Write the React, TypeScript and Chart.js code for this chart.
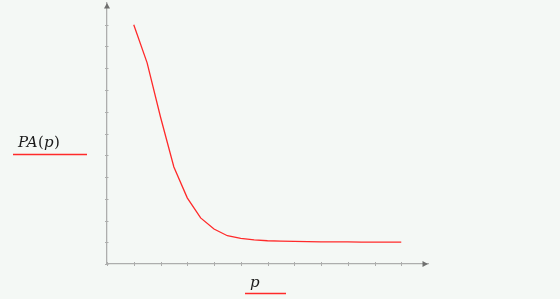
import React, { useEffect, useRef } from "react";
import { Chart, registerables } from "chart.js";

Chart.register(...registerables);

const pValues = [1, 1.5, 2, 2.5, 3, 3.5, 4, 4.5, 5, 5.5, 6, 6.5, 7, 7.5, 8, 8.5, 9, 9.5, 10, 10.5, 11];
const paValues = [11.0, 9.25, 6.76, 4.46, 3.04, 2.12, 1.61, 1.3, 1.18, 1.11, 1.07, 1.05, 1.04, 1.03, 1.02, 1.02, 1.02, 1.01, 1.01, 1.01, 1.01];
const xTickValues = [0, 1, 2, 3, 4, 5, 6, 7, 8, 9, 10, 11];
const yTickValues = [0, 1, 2, 3, 4, 5, 6, 7, 8, 9, 10, 11];
// label pieces: [text, italic]
const yLabelParts: [string, boolean][] = [["PA", true], ["(", false], ["p", true], [")", false]];
const xLabel = "p";

const BG = "#f4f8f5";
const AXIS = "#adaead";
const RED = "#ff2a2a";
const FONT_SIZE = 15;

const mathcadPlugin = {
  id: "mathcadDecor",
  beforeDraw(chart: any) {
    const { ctx, width, height } = chart;
    ctx.save();
    ctx.fillStyle = BG;
    ctx.fillRect(0, 0, width, height);
    ctx.restore();
  },
  afterDraw(chart: any) {
    const { ctx } = chart;
    const xs = chart.scales.x;
    const ys = chart.scales.y;
    const x0 = xs.getPixelForValue(0);
    const y0 = ys.getPixelForValue(0);
    const xEnd = xs.getPixelForValue(xs.max);
    const yEnd = ys.getPixelForValue(ys.max);
    ctx.save();
    // tick marks crossing axes
    ctx.strokeStyle = AXIS;
    ctx.lineWidth = 1;
    xTickValues.forEach((v) => {
      const px = Math.round(xs.getPixelForValue(v)) + 0.5;
      ctx.beginPath();
      ctx.moveTo(px, y0 - 2);
      ctx.lineTo(px, y0 + 2);
      ctx.stroke();
    });
    yTickValues.forEach((v) => {
      const py = Math.round(ys.getPixelForValue(v)) + 0.5;
      ctx.beginPath();
      ctx.moveTo(x0 - 2, py);
      ctx.lineTo(x0 + 1.5, py);
      ctx.stroke();
    });
    // arrows
    ctx.fillStyle = "#6f706f";
    ctx.beginPath();
    ctx.moveTo(xEnd, y0);
    ctx.lineTo(xEnd - 5.5, y0 - 3);
    ctx.lineTo(xEnd - 5.5, y0 + 3);
    ctx.closePath();
    ctx.fill();
    ctx.beginPath();
    ctx.moveTo(x0, yEnd);
    ctx.lineTo(x0 - 3, yEnd + 5.5);
    ctx.lineTo(x0 + 3, yEnd + 5.5);
    ctx.closePath();
    ctx.fill();
    // labels
    ctx.fillStyle = "#1a1a1a";
    ctx.textBaseline = "alphabetic";
    ctx.textAlign = "left";
    let cx = 18;
    yLabelParts.forEach(([t, it]) => {
      ctx.font = `${it ? "italic " : ""}${FONT_SIZE}px 'DejaVu Serif'`;
      ctx.fillText(t, cx, 147);
      cx += ctx.measureText(t).width + (it ? 0.5 : 0);
    });
    ctx.font = `italic ${FONT_SIZE}px 'DejaVu Serif'`;
    ctx.fillText(xLabel, 250, 287);
    ctx.strokeStyle = RED;
    ctx.lineWidth = 1.3;
    ctx.beginPath();
    ctx.moveTo(13, 154.5);
    ctx.lineTo(87, 154.5);
    ctx.moveTo(245, 293.5);
    ctx.lineTo(286, 293.5);
    ctx.stroke();
    ctx.restore();
  },
};

export default function App() {
  const ref = useRef<HTMLCanvasElement>(null);
  useEffect(() => {
    if (!ref.current) return;
    const chart = new Chart(ref.current, {
      type: "line",
      data: {
        datasets: [
          {
            data: pValues.map((p, i) => ({ x: p, y: paValues[i] })),
            borderColor: RED,
            borderWidth: 1.3,
            pointRadius: 0,
            tension: 0,
            fill: false,
          },
        ],
      },
      options: {
        animation: false,
        responsive: false,
        devicePixelRatio: 1,
        layout: { padding: { left: 107, right: 132, top: 3, bottom: 35 } },
        plugins: { legend: { display: false }, tooltip: { enabled: false } },
        scales: {
          x: {
            type: "linear",
            min: 0,
            max: 12,
            ticks: { display: false, stepSize: 1 },
            grid: { display: false, drawTicks: false },
            border: { display: true, color: AXIS, width: 1.3 },
          },
          y: {
            type: "linear",
            min: 0,
            max: 12,
            ticks: { display: false, stepSize: 1 },
            grid: { display: false, drawTicks: false },
            border: { display: true, color: AXIS, width: 1.3 },
          },
        },
      },
      plugins: [mathcadPlugin],
    });
    return () => chart.destroy();
  }, []);
  return (
    <div style={{ position: "fixed", left: 0, top: 0, width: 560, height: 299, background: BG }}>
      <canvas ref={ref} width={560} height={299} style={{ display: "block" }} />
    </div>
  );
}
